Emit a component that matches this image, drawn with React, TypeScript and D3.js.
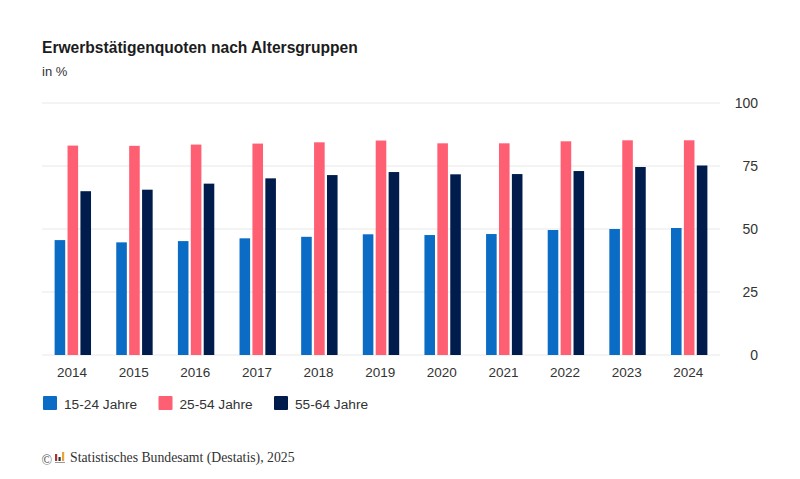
import React, { useEffect, useRef } from "react";
import * as d3 from "d3";

const years = ["2014", "2015", "2016", "2017", "2018", "2019", "2020", "2021", "2022", "2023", "2024"];
const jung = [45.6, 44.7, 45.2, 46.3, 46.9, 47.9, 47.6, 48, 49.6, 50, 50.4];
const mitte = [83.1, 83, 83.5, 83.9, 84.4, 85.1, 84, 84, 84.8, 85.2, 85.2];
const alt = [65, 65.6, 68, 70.1, 71.4, 72.6, 71.7, 71.8, 73, 74.6, 75.2];
const seriesNames = ["15-24 Jahre", "25-54 Jahre", "55-64 Jahre"];
const colors = ["#0a6cc4", "#ff5f73", "#001c4d"];
const yTicks = [0, 25, 50, 75, 100];

const sans = "Arial, 'Liberation Sans', sans-serif";

function draw(ref: SVGSVGElement) {
	const svg = d3.select(ref);
	svg.selectAll("*").remove();

	const x = d3.scaleBand().domain(years).range([42, 720]);
	const y = d3.scaleLinear().domain([0, 100]).range([355, 103]);
	const inner = d3.scaleBand().domain(seriesNames).range([-18.2, 18.2]).paddingInner(0.18);

	svg.append("text").attr("x", 42).attr("y", 53).attr("font-family", sans).attr("font-size", 15.6).attr("font-weight", 700).attr("fill", "#1c1c1c").text("Erwerbstätigenquoten nach Altersgruppen");
	svg.append("text").attr("x", 42).attr("y", 76).attr("font-family", sans).attr("font-size", 13).attr("fill", "#333").text("in %");

	// grid
	svg.selectAll("line.grid")
		.data(yTicks)
		.enter()
		.append("line")
		.attr("class", "grid")
		.attr("x1", 42)
		.attr("x2", 720)
		.attr("y1", (d) => y(d))
		.attr("y2", (d) => y(d))
		.attr("stroke", "#e8e8ea")
		.attr("stroke-width", 1);

	// y axis labels on the right
	svg.selectAll("text.ytick")
		.data(yTicks)
		.enter()
		.append("text")
		.attr("class", "ytick")
		.attr("x", 758)
		.attr("y", (d) => y(d) + 5)
		.attr("text-anchor", "end")
		.attr("font-family", sans)
		.attr("font-size", 14)
		.attr("fill", "#333")
		.text((d) => d);

	// bars
	[jung, mitte, alt].forEach((values, i) => {
		svg.append("g")
			.selectAll("rect")
			.data(values)
			.enter()
			.append("rect")
			.attr("x", (_, j) => (x(years[j]) as number) + x.bandwidth() / 2 + (inner(seriesNames[i]) as number))
			.attr("y", (d) => y(d))
			.attr("width", inner.bandwidth())
			.attr("height", (d) => y(0) - y(d))
			.attr("fill", colors[i]);
	});

	// x labels
	svg.selectAll("text.xtick")
		.data(years)
		.enter()
		.append("text")
		.attr("class", "xtick")
		.attr("x", (d) => (x(d) as number) + x.bandwidth() / 2 - 0.8)
		.attr("y", 377)
		.attr("text-anchor", "middle")
		.attr("font-family", sans)
		.attr("font-size", 13.5)
		.attr("fill", "#333")
		.text((d) => d);

	// legend
	const legendX = [43, 158.5, 274];
	seriesNames.forEach((name, i) => {
		svg.append("rect").attr("x", legendX[i]).attr("y", 396).attr("width", 14).attr("height", 14).attr("rx", 1).attr("fill", colors[i]);
		svg.append("text").attr("x", legendX[i] + 21).attr("y", 409).attr("font-family", sans).attr("font-size", 13.7).attr("fill", "#333").text(name);
	});

	// source line with the small logo
	svg.append("text").attr("x", 41.5).attr("y", 465).attr("font-family", "'Liberation Serif', serif").attr("font-size", 14).attr("fill", "#555").text("©");
	const logo = [
		{ x: 55, h: 7, c: "#a33" },
		{ x: 58.5, h: 4, c: "#333" },
		{ x: 62, h: 9, c: "#e8a33d" },
	];
	logo.forEach((b) => {
		svg.append("rect").attr("x", b.x).attr("y", 461 - b.h).attr("width", 2.2).attr("height", b.h).attr("fill", b.c);
	});
	svg.append("rect").attr("x", 55).attr("y", 462).attr("width", 10).attr("height", 1).attr("fill", "#999");
	svg.append("text").attr("x", 70).attr("y", 462).attr("font-family", "'Liberation Serif', serif").attr("font-size", 13.75).attr("fill", "#333").text("Statistisches Bundesamt (Destatis), 2025");
}

export default function App() {
	const ref = useRef<SVGSVGElement>(null);
	useEffect(() => {
		if (!ref.current) return;
		draw(ref.current);
	}, []);
	return <svg ref={ref} width={800} height={479} viewBox="0 0 800 479" style={{ position: "fixed", left: 0, top: 0, background: "#fff" }} />;
}
